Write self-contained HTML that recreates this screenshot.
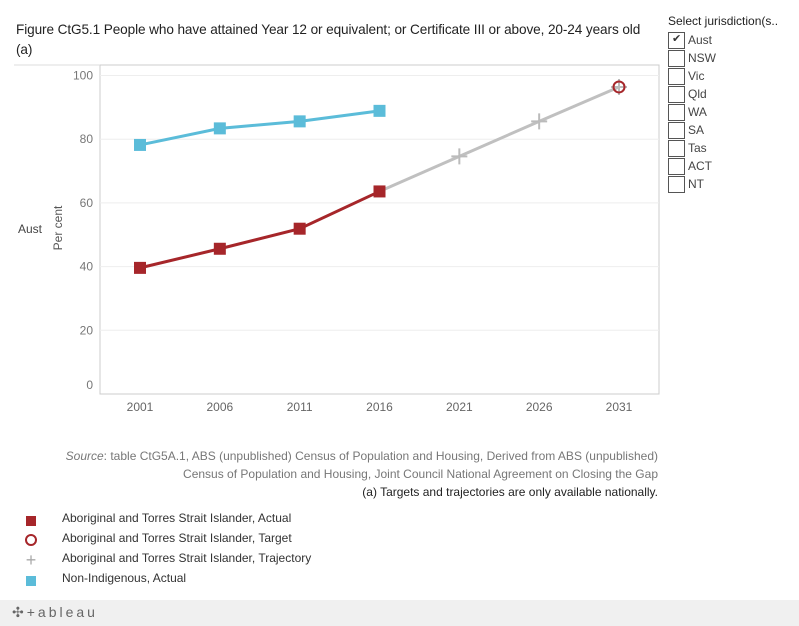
<!DOCTYPE html>
<html><head><meta charset="utf-8"><style>
body{margin:0;width:799px;height:626px;background:#fff;font-family:"Liberation Sans",sans-serif;overflow:hidden;position:relative;color:#333}
.t{position:absolute;white-space:nowrap}
.cb{position:absolute;left:668px;width:17px;height:17px;border:1px solid #555;box-sizing:border-box;background:#fff}
.cl{position:absolute;left:688px;font-size:12px;color:#444}
</style></head><body>
<div class="t" style="left:16px;top:20px;font-size:13.6px;color:#222;line-height:20px;letter-spacing:-0.1px">Figure CtG5.1 People who have attained Year 12 or equivalent; or Certificate III or above, 20-24 years old<br>(a)</div>
<div class="t" style="left:668px;top:14px;font-size:12px;color:#222">Select jurisdiction(s..</div>
<div id="filters"></div>
<svg id="chart" width="799" height="626" style="position:absolute;left:0;top:0"></svg>
<div class="t" style="left:18px;top:222px;font-size:12px;color:#444">Aust</div>
<div class="t" style="left:28px;top:221px;font-size:12px;color:#555;transform:rotate(-90deg);transform-origin:center;width:60px;text-align:center">Per cent</div>
<div class="t" style="right:141px;top:447px;font-size:12px;color:#777;text-align:right;line-height:18px"><i>Source</i>: table CtG5A.1, ABS (unpublished) Census of Population and Housing, Derived from ABS (unpublished)<br>Census of Population and Housing, Joint Council National Agreement on Closing the Gap<br><span style="color:#222">(a) Targets and trajectories are only available nationally.</span></div>
<div id="legend"></div>
<div style="position:absolute;left:0;top:600px;width:799px;height:26px;background:#f0f0f0"></div>
<div class="t" style="left:12px;top:604px;font-size:14px;color:#666;letter-spacing:3px">✣+ableau</div>
<script>
const juris=["Aust","NSW","Vic","Qld","WA","SA","Tas","ACT","NT"];
const years=[2001,2006,2011,2016,2021,2026,2031];
const yTicks=[0,20,40,60,80,100];
const actYears=[2001,2006,2011,2016];
const indigActual=[39.6,45.6,51.9,63.6];
const nonIndigActual=[78.2,83.4,85.6,88.9];
const trajYears=[2016,2021,2026,2031];
const trajectory=[63.6,74.6,85.6,96.4];
const targetYear=[2031];
const target=[96.4];
const NS="http://www.w3.org/2000/svg";
const svg=document.getElementById('chart');
const X0=100,X1=659,Y0=65,Y1=394;
const x=y=>140+(y-2001)*(619-140)/30;
const yv=v=>394-v*(394-75.5)/100;
function mk(t,a){const e=document.createElementNS(NS,t);for(const k in a)e.setAttribute(k,a[k]);svg.appendChild(e);return e;}
let r=mk('rect',{x:X0,y:Y0,width:X1-X0,height:Y1-Y0,fill:'none',stroke:'#ccc'});

mk('line',{x1:14,y1:Y0,x2:X0,y2:Y0,stroke:'#ddd'});
yTicks.forEach(t=>{
 if(t>0){const g=mk('line',{x1:X0,x2:X1,y1:yv(t),y2:yv(t),stroke:'#eee'});}
 const tx=mk('text',{x:93,y:t==0?yv(t)-5:yv(t)+4,'text-anchor':'end','font-size':12,fill:'#777'});tx.textContent=t;
 
});
years.forEach(yy=>{const tx=mk('text',{x:x(yy),y:411,'text-anchor':'middle','font-size':12,fill:'#666'});tx.textContent=yy;
 });
function line(xs,vs,c,n){const p=mk('polyline',{points:xs.map((a,i)=>x(a)+','+yv(vs[i])).join(' '),fill:'none',stroke:c,'stroke-width':3});
 }
line(trajYears,trajectory,'#c0c0c0','trajectory-line');
line(actYears,indigActual,'#a6262a','indigenous-actual-line');
line(actYears,nonIndigActual,'#5bbcd9','non-indigenous-line');
trajYears.slice(1).forEach((a,i)=>{const v=trajectory[i+1];
 const g=mk('path',{d:`M${x(a)-8},${yv(v)}h16M${x(a)},${yv(v)-8}v16`,stroke:'#bbb','stroke-width':2});
 });
function sq(xs,vs,c,n){xs.forEach((a,i)=>{const s=mk('rect',{x:x(a)-6,y:yv(vs[i])-6,width:12,height:12,fill:c});
 });}
sq(actYears,indigActual,'#a6262a','indigenous-actual-point');
sq(actYears,nonIndigActual,'#5bbcd9','non-indigenous-point');
targetYear.forEach((a,i)=>{const c=mk('circle',{cx:x(a),cy:yv(target[i]),r:5.5,fill:'none',stroke:'#a6262a','stroke-width':2});
 });
const f=document.getElementById('filters');
juris.forEach((j,i)=>{const top=32+i*18;
 const b=document.createElement('div');b.className='cb';b.style.top=top+'px';if(i==0)b.innerHTML='<span style="position:absolute;left:3px;top:-1px;font-size:11px">✔</span>';
 f.appendChild(b);
 const l=document.createElement('div');l.className='cl';l.style.top=(top+1)+'px';l.textContent=j;
 f.appendChild(l);});
const leg=[["sq","#a6262a","Aboriginal and Torres Strait Islander, Actual"],["ci","#a6262a","Aboriginal and Torres Strait Islander, Target"],["pl","#bbb","Aboriginal and Torres Strait Islander, Trajectory"],["sq","#5bbcd9","Non-Indigenous, Actual"]];
const L=document.getElementById('legend');
leg.forEach((e,i)=>{const top=511+i*20;
 const ic=document.createElement('div');ic.className='t';ic.style.left='24px';ic.style.top=(top+2)+'px';ic.style.width='14px';ic.style.textAlign='center';
 ic.innerHTML=e[0]=='sq'?`<span style="display:inline-block;width:10px;height:10px;background:${e[1]}"></span>`:e[0]=='ci'?`<span style="display:inline-block;width:8px;height:8px;border:2px solid ${e[1]};border-radius:50%"></span>`:`<span style="color:#aaa;font-size:18px;line-height:12px">+</span>`;
 L.appendChild(ic);
 const d=document.createElement('div');d.className='t';d.style.left='62px';d.style.top=top+'px';d.style.fontSize='12px';d.style.color='#333';
 d.textContent=e[2];L.appendChild(d);});
</script>
</body></html>
